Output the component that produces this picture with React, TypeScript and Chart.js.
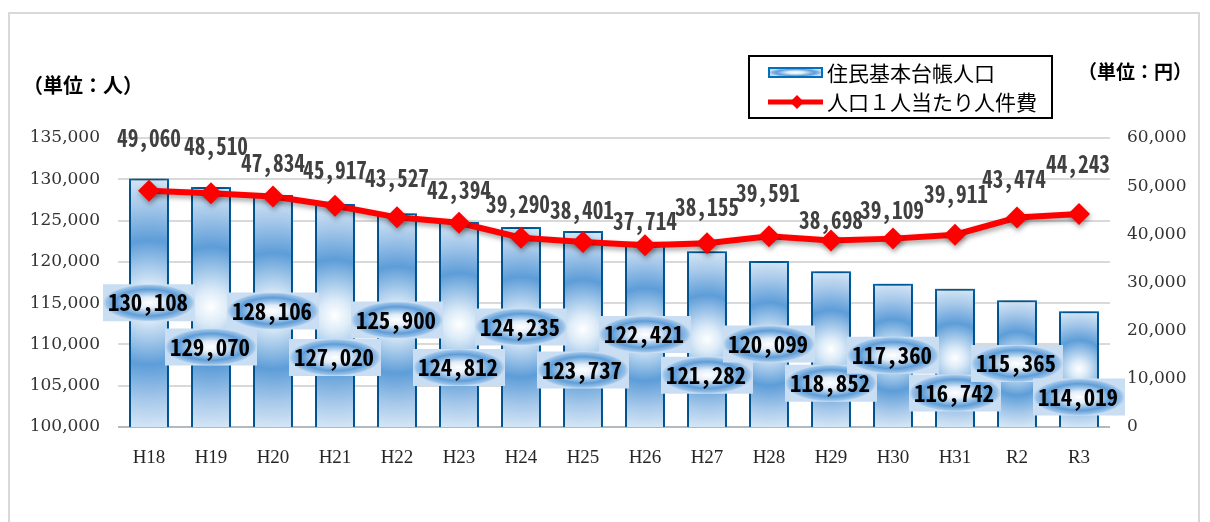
import React, { useEffect, useRef } from 'react';
import { Chart, registerables } from 'chart.js';

Chart.register(...registerables);

// ---------------- data ----------------
const categories = ['H18', 'H19', 'H20', 'H21', 'H22', 'H23', 'H24', 'H25', 'H26', 'H27', 'H28', 'H29', 'H30', 'H31', 'R2', 'R3'];
const population = [130108, 129070, 128106, 127020, 125900, 124812, 124235, 123737, 122421, 121282, 120099, 118852, 117360, 116742, 115365, 114019];
const costPerPerson = [49060, 48510, 47834, 45917, 43527, 42394, 39290, 38401, 37714, 38155, 39591, 38698, 39109, 39911, 43474, 44243];
const leftTickValues = [100000, 105000, 110000, 115000, 120000, 125000, 130000, 135000];
const rightTickValues = [0, 10000, 20000, 30000, 40000, 50000, 60000];
const seriesNames = ['住民基本台帳人口', '人口１人当たり人件費'];
const unitLeft = '（単位：人）';
const unitRight = '（単位：円）';

// ---------------- label placement (style) ----------------
const barLabelShift = [0, 40, 0, 42, 0, 43, 0, 41, 0, 36, 0, 34, 0, 35, 0, 28];
const lineLabelShift: [number, number][] = [
  [0, -53], [5, -47], [0, -34], [0, -36], [0, -39], [0, -33], [-3, -34], [-1, -32],
  [0, -24], [0, -36], [-1, -43], [0, -21], [-1, -29], [1, -41], [-3, -39], [-1, -50],
];

const BAR_PCT = 0.645;
const BAR_STOPS: [number, string][] = [
  [0, '#ffffff'],
  [0.14, '#dcebf8'],
  [0.5, '#5d9dd8'],
  [0.78, '#a6c8ea'],
  [1, '#d3e5f5'],
];
const BOX_STOPS: [number, string][] = [
  [0, '#ffffff'],
  [0.3, '#e0ecf8'],
  [0.72, '#5e9dd8'],
  [0.92, '#98c0e7'],
  [1, '#c9def2'],
];
const LABEL_FONT = '"Noto Sans Mono CJK JP", "Noto Sans CJK JP", sans-serif';
const CJK_FONT = '"Noto Sans CJK JP", sans-serif';

const fmt = (v: number) => v.toLocaleString('en-US');

function paintGlow(g: CanvasRenderingContext2D, x: number, y: number, w: number, h: number, stops: [number, string][], circular: boolean) {
  g.save();
  g.beginPath();
  g.rect(x, y, w, h);
  g.clip();
  g.translate(x + w / 2, y + h / 2);
  if (circular) {
    const r = Math.max(w, h) / 2;
    g.scale(r, r);
  } else {
    g.scale(w / 2, h / 2);
  }
  const rg = g.createRadialGradient(0, 0, 0, 0, 0, 1);
  stops.forEach(([o, c]) => rg.addColorStop(o, c));
  g.fillStyle = rg;
  g.fillRect(-2, -2, 4, 4);
  g.restore();
}

function glowPattern(ctx: CanvasRenderingContext2D, x: number, y: number, w: number, h: number, stops: [number, string][], circular: boolean) {
  const c = document.createElement('canvas');
  c.width = Math.ceil(w) + 2;
  c.height = Math.ceil(h) + 2;
  const g = c.getContext('2d')!;
  g.fillStyle = stops[stops.length - 1][1];
  g.fillRect(0, 0, c.width, c.height);
  paintGlow(g, 0, 0, w, h, stops, circular);
  const p = ctx.createPattern(c, 'no-repeat')!;
  p.setTransform(new DOMMatrix().translate(x, y));
  return p;
}

function drawCondensed(ctx: CanvasRenderingContext2D, text: string, x: number, y: number, target: number, font: string, color: string) {
  ctx.save();
  ctx.font = font;
  const m = ctx.measureText(text).width;
  const s = Math.min(1, target / m);
  ctx.translate(x, y);
  ctx.scale(s, 1);
  ctx.textAlign = 'center';
  ctx.textBaseline = 'middle';
  ctx.fillStyle = color;
  ctx.fillText(text, 0, 0);
  ctx.restore();
}

const barFill = (c: any) => {
  const chart = c.chart;
  const xs = chart.scales.x;
  const ys = chart.scales.y;
  if (!xs || !ys || c.type !== 'data') return '#9dc3e6';
  const i = c.dataIndex;
  const w = (xs.width / categories.length) * BAR_PCT;
  const cx = xs.getPixelForValue(i);
  const top = ys.getPixelForValue(population[i]);
  const bottom = ys.getPixelForValue(ys.min);
  const h = bottom - top;
  if (!(w > 1) || !(h > 1)) return '#9dc3e6';
  return glowPattern(chart.ctx, cx - w / 2, top, w, h, BAR_STOPS, true);
};

const decorPlugin = {
  id: 'decor',
  beforeDraw(chart: any) {
    const ctx = chart.ctx as CanvasRenderingContext2D;
    ctx.save();
    ctx.fillStyle = '#ffffff';
    ctx.fillRect(0, 0, chart.width, chart.height);
    ctx.strokeStyle = '#d9d9d9';
    ctx.lineWidth = 2;
    ctx.strokeRect(9, 13, 1190, 540);
    ctx.restore();
  },
  beforeDatasetDraw(chart: any, args: any) {
    const ctx = chart.ctx as CanvasRenderingContext2D;
    ctx.save();
    if (args.index === 0) {
      ctx.shadowColor = 'rgba(0,0,0,0.6)';
      ctx.shadowBlur = 9;
      ctx.shadowOffsetX = 0;
      ctx.shadowOffsetY = 0;
    } else {
      ctx.shadowColor = 'rgba(0,0,0,0.35)';
      ctx.shadowBlur = 5;
      ctx.shadowOffsetX = 1;
      ctx.shadowOffsetY = 3;
    }
  },
  afterDatasetDraw(chart: any) {
    chart.ctx.restore();
  },
  afterDatasetsDraw(chart: any) {
    const ctx = chart.ctx as CanvasRenderingContext2D;
    const xs = chart.scales.x;
    const ys = chart.scales.y;
    const base = ys.getPixelForValue(ys.min);
    // bar labels
    population.forEach((v, i) => {
      const x = xs.getPixelForValue(i);
      const cy = (ys.getPixelForValue(v) + base) / 2 + barLabelShift[i];
      const bw = 92, bh = 37;
      paintGlow(ctx, x - bw / 2, cy - bh / 2, bw, bh, BOX_STOPS, false);
      const t = fmt(v);
      drawCondensed(ctx, t, x - 1, cy, 80, `bold 23px ${LABEL_FONT}`, '#000000');
    });
    // line labels
    const lineMeta = chart.getDatasetMeta(1);
    lineMeta.data.forEach((pt: any, i: number) => {
      const [dx, dy] = lineLabelShift[i];
      const t = fmt(costPerPerson[i]);
      drawCondensed(ctx, t, pt.x + dx, pt.y + dy, 64, `bold 24px ${LABEL_FONT}`, '#404040');
    });

    // units
    ctx.save();
    ctx.fillStyle = '#000';
    ctx.textAlign = 'center';
    ctx.textBaseline = 'middle';
    ctx.font = `bold 20px ${CJK_FONT}`;
    ctx.fillText(unitLeft, 83, 85);
    ctx.font = `bold 19px ${CJK_FONT}`;
    ctx.fillText(unitRight, 1135, 72);
    ctx.restore();

    // legend
    ctx.save();
    ctx.strokeStyle = '#000';
    ctx.lineWidth = 2;
    ctx.strokeRect(749, 56, 303, 62);
    // bar swatch
    paintGlow(ctx, 769, 68, 53, 9, BOX_STOPS, false);
    ctx.strokeStyle = '#0070c0';
    ctx.lineWidth = 2;
    ctx.strokeRect(769, 68, 53, 9);
    // line swatch
    ctx.strokeStyle = '#ff0000';
    ctx.lineWidth = 5;
    ctx.beginPath();
    ctx.moveTo(768, 102);
    ctx.lineTo(823, 102);
    ctx.stroke();
    ctx.fillStyle = '#ff0000';
    ctx.beginPath();
    ctx.moveTo(797, 95);
    ctx.lineTo(804, 102);
    ctx.lineTo(797, 109);
    ctx.lineTo(790, 102);
    ctx.closePath();
    ctx.fill();
    ctx.fillStyle = '#000';
    ctx.font = `21px ${CJK_FONT}`;
    ctx.textAlign = 'left';
    ctx.textBaseline = 'middle';
    ctx.fillText(seriesNames[0], 827, 73);
    ctx.fillText(seriesNames[1], 827, 102);
    ctx.restore();
  },
};

export default function App() {
  const ref = useRef<HTMLCanvasElement>(null);
  useEffect(() => {
    const canvas = ref.current!;
    const chart = new Chart(canvas, {
      type: 'bar',
      data: {
        labels: categories,
        datasets: [
          {
            type: 'bar',
            label: seriesNames[0],
            data: population,
            yAxisID: 'y',
            order: 2,
            backgroundColor: barFill as any,
            borderColor: '#0070c0',
            borderWidth: 2,
            barPercentage: BAR_PCT,
            categoryPercentage: 1,
          } as any,
          {
            type: 'line',
            label: seriesNames[1],
            data: costPerPerson,
            yAxisID: 'y1',
            order: 1,
            borderColor: '#ff0000',
            backgroundColor: '#ff0000',
            borderWidth: 6,
            pointStyle: 'rectRot',
            pointRadius: 11,
            pointBackgroundColor: '#ff0000',
            pointBorderColor: '#ff0000',
            pointBorderWidth: 0,
            tension: 0,
          } as any,
        ],
      },
      options: {
        responsive: false,
        devicePixelRatio: 1,
        animation: false,
        layout: { padding: { top: 138, left: 0, right: 0, bottom: 0 } },
        plugins: { legend: { display: false }, tooltip: { enabled: false } },
        scales: {
          x: {
            grid: { display: false },
            border: { display: false },
            ticks: { color: '#262626', font: { family: '"Liberation Serif", serif', size: 19 }, padding: 12 },
            afterFit: (s: any) => { s.height = 95; },
          },
          y: {
            position: 'left',
            min: leftTickValues[0],
            max: leftTickValues[leftTickValues.length - 1],
            afterBuildTicks: (s: any) => { s.ticks = leftTickValues.map((v) => ({ value: v })); },
            grid: {
              color: (c: any) => (c.tick && c.tick.value === leftTickValues[0] ? '#b4b9c0' : '#d9d9d9'),
              lineWidth: 2,
              drawTicks: false,
            },
            border: { display: false },
            ticks: {
              color: '#333333',
              font: { family: '"DejaVu Serif", serif', size: 17 },
              padding: 18,
              callback: (v: any) => fmt(Number(v)),
            },
            afterFit: (s: any) => { s.width = 118; },
          },
          y1: {
            position: 'right',
            min: rightTickValues[0],
            max: rightTickValues[rightTickValues.length - 1],
            afterBuildTicks: (s: any) => { s.ticks = rightTickValues.map((v) => ({ value: v })); },
            grid: { display: false, drawTicks: false },
            border: { display: false },
            ticks: {
              color: '#333333',
              font: { family: '"DejaVu Serif", serif', size: 17 },
              padding: 17,
              callback: (v: any) => fmt(Number(v)),
            },
            afterFit: (s: any) => { s.width = 100; },
          },
        },
      } as any,
      plugins: [decorPlugin],
    });
    return () => chart.destroy();
  }, []);
  return (
    <div style={{ position: 'fixed', left: 0, top: 0, width: 1210, height: 522, background: '#fff' }}>
      <canvas ref={ref} width={1210} height={522} style={{ display: 'block', width: 1210, height: 522 }} />
    </div>
  );
}
